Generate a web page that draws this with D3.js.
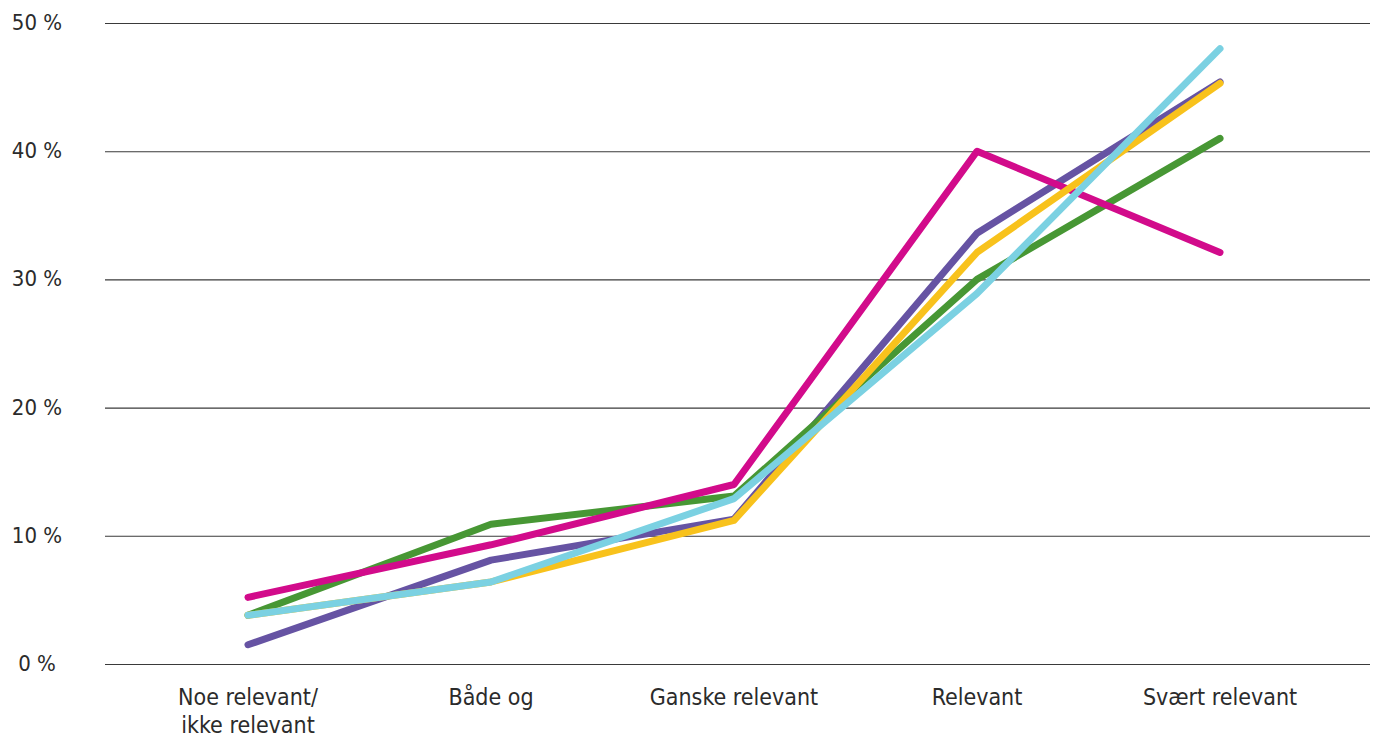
<!DOCTYPE html>
<html>
<head>
<meta charset="utf-8">
<script src="https://cdn.jsdelivr.net/npm/d3@7"></script>
<style>
  html, body { margin: 0; padding: 0; background: #fff; }
  svg text { font-family: "Liberation Sans Narrow", "DejaVu Sans Condensed", "Open Sans", sans-serif; fill: #2b2b2b; }
</style>
</head>
<body>
<svg id="chart" width="1376" height="738"></svg>
<script>
// Response categories along the x axis (line breaks marked with "\n")
const categories = ["Noe relevant/\nikke relevant", "Både og", "Ganske relevant", "Relevant", "Svært relevant"];

// Share of responses per group, in percent
const purpleValues  = [1.5, 8.1, 11.3, 33.6, 45.4];
const greenValues   = [3.8, 10.9, 13.1, 30.0, 41.0];
const magentaValues = [5.2, 9.3, 14.0, 40.0, 32.1];
const yellowValues  = [3.8, 6.4, 11.2, 32.1, 45.3];
const cyanValues    = [3.8, 6.4, 12.9, 28.9, 48.0];

const yTicks = [0, 10, 20, 30, 40, 50];

const series = [
  { name: "purple",  values: purpleValues,  color: "#6653a3" },
  { name: "green",   values: greenValues,   color: "#479734" },
  { name: "magenta", values: magentaValues, color: "#d20b8b" },
  { name: "yellow",  values: yellowValues,  color: "#f8c21c" },
  { name: "cyan",    values: cyanValues,    color: "#7bd1e2" }
];

const svg = d3.select("#chart");
const margin = { left: 105, right: 6, top: 23, bottom: 74 };
const width = 1376, height = 738;

const x = d3.scalePoint()
  .domain(categories)
  .range([248, 1220]);

const y = d3.scaleLinear()
  .domain([0, 50])
  .range([height - margin.bottom, margin.top]);

// Horizontal grid lines
const grid = svg.append("g")
  .attr("transform", `translate(${margin.left},0)`)
  .call(d3.axisLeft(y).tickValues(yTicks).tickSize(-(width - margin.left - margin.right)).tickFormat(""));
grid.select(".domain").remove();
grid.selectAll("line").attr("stroke", "#3a3a3a").attr("stroke-width", 1.1);

// Y tick labels
svg.append("g")
  .selectAll("text")
  .data(yTicks)
  .join("text")
  .attr("x", 37)
  .attr("y", d => y(d) + 7)
  .attr("text-anchor", "middle")
  .attr("font-size", 22)
  .text(d => d + " %");

// X category labels
const xl = svg.append("g")
  .selectAll("text")
  .data(categories)
  .join("text")
  .attr("x", d => x(d))
  .attr("y", 705)
  .attr("text-anchor", "middle")
  .attr("font-size", 23);
xl.each(function(d) {
  const lines = d.split("\n");
  const t = d3.select(this);
  lines.forEach((ln, i) => {
    t.append("tspan").attr("x", x(d)).attr("dy", i === 0 ? 0 : 28).text(ln);
  });
});

// Lines
const line = d3.line()
  .x((v, i) => x(categories[i]))
  .y(v => y(v));

svg.append("g")
  .selectAll("path")
  .data(series)
  .join("path")
  .attr("d", d => line(d.values))
  .attr("fill", "none")
  .attr("stroke", d => d.color)
  .attr("stroke-width", 7)
  .attr("stroke-linecap", "round")
  .attr("stroke-linejoin", "round");
</script>
</body>
</html>
